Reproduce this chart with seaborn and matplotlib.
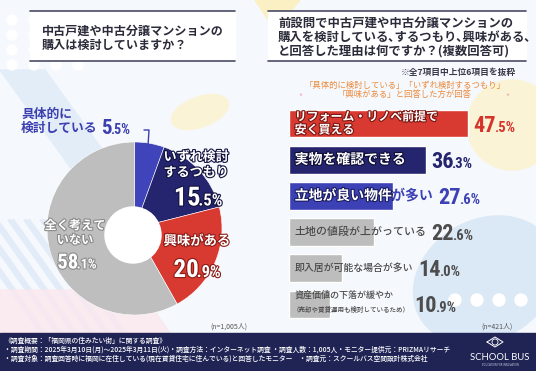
import pandas as pd
import seaborn as sns
import matplotlib
matplotlib.use("Agg")
import matplotlib.pyplot as plt
import matplotlib.patheffects as pe
from matplotlib import font_manager
from matplotlib.transforms import IdentityTransform
from matplotlib.patches import Rectangle, Circle, Polygon, Ellipse

# data
pie_labels = ["具体的に\n検討している", "いずれ検討\nするつもり", "興味がある", "全く考えて\nいない"]
pie_values = [5.5, 15.5, 20.9, 58.1]
pie_colors = ["#4044bb", "#24246f", "#d83a31", "#bebebe"]

reasons = ["リフォーム・リノベ前提で\n安く買える", "実物を確認できる", "立地が良い物件が多い",
           "土地の値段が上がっている", "即入居が可能な場合が多い", "資産価値の下落が緩やか"]
reason_notes = ["", "", "", "", "", "（売却や賃貸運用も検討しているため）"]
reason_values = [47.5, 36.3, 27.6, 22.6, 14.0, 10.9]
bar_colors = ["#d83a31", "#24246f", "#3d41b6", "#bdbdbd", "#bdbdbd", "#bdbdbd"]
value_colors = ["#d6332b", "#24246f", "#3d41b6", "#4d4d4d", "#4d4d4d", "#4d4d4d"]

title_left = "中古戸建や中古分譲マンションの\n購入は検討していますか？"
title_right = "前設問で中古戸建や中古分譲マンションの\n購入を検討している､するつもり､興味がある､\nと回答した理由は何ですか？(複数回答可)"
note_top = "※全7項目中上位6項目を抜粋"
note_orange = "「具体的に検討している」「いずれ検討するつもり」\n「興味がある」と回答した方が回答"
n_left = "(n=1,005人)"
n_right = "(n=421人)"
footer_lines = [
    "《調査概要：「福岡県の住みたい街」に関する調査》",
    "・調査期間：2025年3月10日(月)～2025年3月11日(火)・調査方法：インターネット調査 ・調査人数：1,005人・モニター提供元：PRIZMAリサーチ",
    "・調査対象：調査回答時に福岡に在住している(現在賃貸住宅に住んでいる)と回答したモニター　・調査元：スクールバス空間設計株式会社",
]

sns.set_theme(style="white")
entries = font_manager.fontManager.ttflist
names = {f.name for f in entries}
NUM, NUM_STRETCH = "Roboto", "normal"
if "Liberation Sans Narrow" in names:
    NUM = "Liberation Sans Narrow"
elif "Roboto Condensed" in names:
    NUM = "Roboto Condensed"
elif any(f.name == "DejaVu Sans" and "ondensed" in str(f.stretch) + f.fname for f in entries):
    NUM, NUM_STRETCH = "DejaVu Sans", "condensed"
JP = "Noto Sans CJK JP"
plt.rcParams['font.family'] = [JP, 'DejaVu Sans']

W, H = 536, 371
fig = plt.figure(figsize=(W / 100, H / 100), dpi=100)

# background in pixel coords
bg = fig.add_axes([0, 0, 1, 1])
bg.set_xlim(0, W)
bg.set_ylim(H, 0)
bg.axis("off")
bg.add_patch(Rectangle((0, 0), W, H, color="#f5f8fc", zorder=0))
# soft decorations
bg.add_patch(Polygon([(0, 70), (45, 70), (175, 250), (130, 250)], color="#e3edf8", zorder=1))
for k in range(6):
    x0 = -40 + k * 16
    bg.add_patch(Polygon([(x0, 220), (x0 + 6, 220), (x0 + 86, 333), (x0 + 80, 333)], color="#e2ecf8", zorder=1))
bg.add_patch(Polygon([(0, 290), (140, 290), (170, 333), (0, 333)], color="#fbe8ee", alpha=0.8, zorder=1))
bg.add_patch(Circle((512, 125), 45, color="#fbf3d6", zorder=1))
bg.add_patch(Polygon([(255, 0), (300, 0), (275, 30)], color="#faf0c4", zorder=1))
bg.add_patch(Ellipse((485, 280), 150, 120, angle=-30, color="#dbe8f6", zorder=1))
bg.add_patch(Ellipse((200, 112), 60, 30, angle=-20, color="#fbf3d6", zorder=1))
for i in range(4):
    for j in range(4):
        bg.add_patch(Circle((12 + i * 22, 20 + j * 15), 5, color="white", zorder=1.5))
for i in range(4):
    bg.add_patch(Circle((455 + i * 22, 300), 6, color="white", zorder=1.5))

# title boxes
for x0, x1 in [(30, 235), (268, 526)]:
    bg.add_patch(Rectangle((x0, 11), x1 - x0, 50, color="white", zorder=2))
    bg.plot([x0, x1], [11, 11], color="#4a4a66", lw=1.2, zorder=3)
    bg.plot([x0, x1], [61, 61], color="#4a4a66", lw=1.2, zorder=3)

# footer band
bg.add_patch(Rectangle((0, 333), W, H - 333, color="#1f2454", zorder=2))

# pie (donut)
cx, cy, rx, ry = 134.5, 228.5, 87.5, 86.5
pax = fig.add_axes([(cx - rx) / W, (H - cy - ry) / H, 2 * rx / W, 2 * ry / H])
pax.pie(pie_values, colors=pie_colors, startangle=90, counterclock=False, radius=1,
        wedgeprops=dict(edgecolor="white", linewidth=0.4))
pax.set_aspect("auto")
pax.set_xlim(-1, 1)
pax.set_ylim(-1, 1)
pax.axis("off")
pax.add_patch(Circle((133, 235), 28, color="white", transform=bg.transData, clip_on=False))

# bars
x_left, x_right = 289, 530
px_per = 3.77
top, bottom = 105.4, 322.6
bax = fig.add_axes([x_left / W, (H - bottom) / H, (x_right - x_left) / W, (bottom - top) / H])
df = pd.DataFrame({"reason": reasons, "value": reason_values})
sns.barplot(data=df, x="value", y="reason", hue="reason", palette=bar_colors, legend=False,
            width=0.77, saturation=1, ax=bax)
bax.set_xlim(0, (x_right - x_left) / px_per)
bax.set_ylim(5.5, -0.5)
bax.axis("off")

patches = {}
for p in bax.patches:
    patches[int(round(p.get_y() + p.get_height() / 2))] = p

label_sizes = [8.6, 10, 10, 7.9, 7.1, 6.5]
strokes = ["#7a1510", "#0e0e38", "#1a1c60"]
label_texts = {}
for i, lab in enumerate(reasons):
    ts = []
    y = i if not reason_notes[i] else i - 0.25
    if i < 3:
        t = bax.text(1.5, y, lab, va="center", ha="left", fontsize=label_sizes[i], fontweight="bold",
                     color=value_colors[i], linespacing=1.0)
        w = bax.text(1.5, y, lab, va="center", ha="left", fontsize=label_sizes[i], fontweight="bold",
                     color="white", linespacing=1.0, clip_on=True,
                     path_effects=[pe.withStroke(linewidth=1.6, foreground=strokes[i])])
        w.set_clip_path(patches[i])
        ts.append(t)
    else:
        t = bax.text(1.5, y, lab, va="center", ha="left", fontsize=label_sizes[i], fontweight="medium",
                     color="#4a4a4a")
        ts.append(t)
    if reason_notes[i]:
        ts.append(bax.text(0.9, i + 0.16, reason_notes[i], va="center", ha="left", fontsize=4.7,
                           fontweight="medium", color="#4a4a4a"))
    label_texts[i] = ts

# overlay for texts
ov = fig.add_axes([0, 0, 1, 1])
ov.set_xlim(0, W)
ov.set_ylim(H, 0)
ov.axis("off")

renderer = fig.canvas.get_renderer()


def place_pct(x, y, v, big, small, color, stroke=None, align="left"):
    # x, y in figure pixels; y is the visual middle of the digits
    ip, dp = f"{v:.1f}".split(".")
    eff = [pe.withStroke(linewidth=1.6, foreground=stroke)] if stroke else []
    kw = dict(color=color, family=NUM, fontstretch=NUM_STRETCH, fontweight="bold", path_effects=eff,
              va="baseline", ha="left", transform=IdentityTransform())
    base = y - 0.36 * big * 100 / 72
    a = fig.text(0, base, ip, fontsize=big, **kw)
    b = fig.text(0, base, "." + dp + "%", fontsize=small, **kw)
    wa = a.get_window_extent(renderer).width
    wb = b.get_window_extent(renderer).width
    tuck = 0.08 * big * 100 / 72
    x0 = x if align == "left" else x - (wa + wb - tuck) / 2
    a.set_x(x0)
    b.set_x(x0 + wa - tuck)


# titles
ov.text(42, 38, title_left, fontsize=8.7, fontweight="bold", color="#2b2b3a", va="center",
        ha="left", linespacing=1.15)
ov.text(278, 37, title_right, fontsize=8.9, fontweight="bold", color="#2b2b3a", va="center",
        ha="left", linespacing=1.12)
ov.text(516, 72, note_top, fontsize=6.3, fontweight="bold", color="#3a3a4a", va="center", ha="right")
ov.text(405, 90, note_orange, fontsize=6.0, color="#ec8a3c", va="center", ha="center",
        linespacing=1.05)
ov.text(300, 97, "*", fontsize=6, color="#f2a7b5", ha="center", va="center")
ov.text(507, 97, "*", fontsize=6, color="#f2a7b5", ha="center", va="center")

# pie labels
pie_pos = [(21, 121.5), (196, 164.5), (197, 241), (75, 233)]
pie_num_pos = [(101, 126), (198, 196), (197, 268), (77, 261)]
pie_font = [9.2, 9.4, 9.6, 8.8]
pie_num_size = [(15, 10), (19, 12), (18, 12), (15, 10)]
pie_text_stroke = [None, "#12123e", "#8a1d18", "#8a8a8a"]
for i, lab in enumerate(pie_labels):
    x, y = pie_pos[i]
    col = "#3b3fb0" if i == 0 else "white"
    eff = [pe.withStroke(linewidth=1.6, foreground=pie_text_stroke[i])] if pie_text_stroke[i] else []
    ov.text(x, y, lab, fontsize=pie_font[i], fontweight="bold", color=col,
            ha="left" if i == 0 else "center", va="center", linespacing=1.15, path_effects=eff)
    px, py = ov.transData.transform(pie_num_pos[i])
    place_pct(px, py, pie_values[i], pie_num_size[i][0], pie_num_size[i][1], col, pie_text_stroke[i],
              align="left" if i == 0 else "center")
ov.plot([144, 149, 148], [130, 130, 146], color="#3b3fb0", lw=1)

# bar values placed after bar end or label end
fig.canvas.draw()
for i, v in enumerate(reason_values):
    end_px = bax.transData.transform((v, i))[0]
    lab_px = max(t.get_window_extent(renderer).x1 for t in label_texts[i])
    y_px = bax.transData.transform((0, i))[1]
    place_pct(max(end_px, lab_px) + 5, y_px, v, 16, 10.5, value_colors[i])

# n labels
ov.text(229, 327, n_left, fontsize=5, color="#555555", ha="center", va="center")
ov.text(497, 327, n_right, fontsize=5, color="#555555", ha="center", va="center")

# footer
for k, line in enumerate(footer_lines):
    ov.text(4, 341 + k * 9, line, fontsize=4.9, color="white", ha="left", va="center", fontweight="medium")
ov.plot([487, 495, 503, 495, 487], [342, 337, 342, 347, 342], color="white", lw=0.7)
ov.add_patch(Circle((495, 342), 3, fill=False, edgecolor="white", lw=0.6))
ov.text(500, 357, "SCHOOL BUS", fontsize=6.8, color="white", ha="center", va="center", family="Lato")
ov.text(500, 364.5, "EDUCATION FOR INNOVATION", fontsize=1.8, color="#c8cbe0", ha="center", va="center",
        family="DejaVu Sans")

fig.savefig("out.png", dpi=100)
